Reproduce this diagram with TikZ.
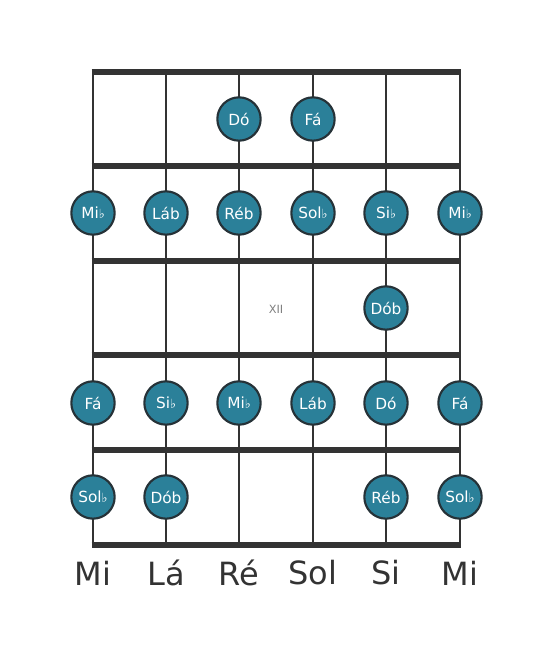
\documentclass[tikz,border=0pt]{standalone}
\usepackage{fontspec}
\setmainfont{DejaVu Sans}
\usepackage{xcolor}
\usetikzlibrary{positioning,calc}

\definecolor{notefill}{HTML}{2B8099}
\definecolor{gridline}{HTML}{333333}
\definecolor{noteline}{HTML}{263238}

\newcommand{\fl}{{\fontsize{9.5}{9}\selectfont\raisebox{0.3pt}{♭}}}

\tikzset{
  fretline/.style={gridline, line width=3.8pt},
  stringline/.style={gridline, line width=2.1pt},
  notedot/.style={circle, fill=notefill, draw=noteline, line width=1.6pt,
    minimum size=32.5pt, inner sep=0pt, text=white,
    font=\fontsize{11.5}{11.5}\selectfont},
  stringname/.style={text=gridline, font=\fontsize{24}{24}\selectfont}
}

\begin{document}
\begin{tikzpicture}[x=0.75pt, y=-0.75pt]
            % Khung hình
            \useasboundingbox (0,0) rectangle (553,656);

            % Dây đàn
            \draw[stringline] (93,72) -- (93,545);
            \draw[stringline] (166,72) -- (166,545);
            \draw[stringline] (239,72) -- (239,545);
            \draw[stringline] (313,72) -- (313,545);
            \draw[stringline] (386,72) -- (386,545);
            \draw[stringline] (460,72) -- (460,545);

            % Phím đàn
            \foreach \y in {72,166,261,355,450,545}
                \draw[fretline] (91.6,\y) -- (461.4,\y);

            % Số phím
            \node[text=gray, font=\fontsize{8.5}{8.5}\selectfont] (fretno) at (276,309) {XII};

            % Hàng 1
            \node[notedot] (n1c) at (239,119) {Dó};
            \node[notedot] (n1d) at (313,119) {Fá};

            % Hàng 2
            \node[notedot] (n2a) at (93,213) {Mi\fl};
            \node[notedot] (n2b) at (166,213) {Láb};
            \node[notedot] (n2c) at (239,213) {Réb};
            \node[notedot] (n2d) at (313,213) {Sol\fl};
            \node[notedot] (n2e) at (386,213) {Si\fl};
            \node[notedot] (n2f) at (460,213) {Mi\fl};

            % Hàng 3
            \node[notedot] (n3e) at (386,308) {Dób};

            % Hàng 4
            \node[notedot] (n4a) at (93,403) {Fá};
            \node[notedot] (n4b) at (166,403) {Si\fl};
            \node[notedot] (n4c) at (239,403) {Mi\fl};
            \node[notedot] (n4d) at (313,403) {Láb};
            \node[notedot] (n4e) at (386,403) {Dó};
            \node[notedot] (n4f) at (460,403) {Fá};

            % Hàng 5
            \node[notedot] (n5a) at (93,497) {Sol\fl};
            \node[notedot] (n5b) at (166,497) {Dób};
            \node[notedot] (n5e) at (386,497) {Réb};
            \node[notedot] (n5f) at (460,497) {Sol\fl};

            % Tên dây
            \node[stringname] (sa) at (93,573) {Mi};
            \node[stringname] (sb) at (166,573) {Lá};
            \node[stringname] (sc) at (239,573) {Ré};
            \node[stringname] (sd) at (313,573) {Sol};
            \node[stringname] (se) at (386,573) {Si};
            \node[stringname] (sf) at (460,573) {Mi};
        \end{tikzpicture}
\end{document}
